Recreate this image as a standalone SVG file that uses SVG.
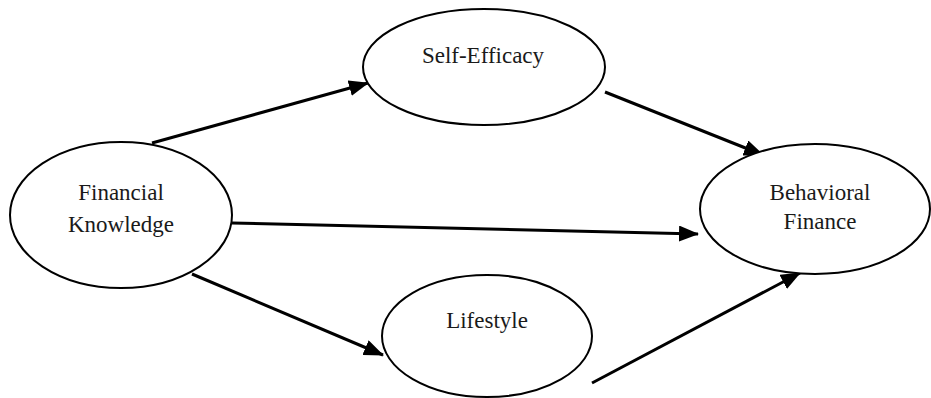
<svg xmlns="http://www.w3.org/2000/svg" width="931" height="398" viewBox="0 0 931 398">
<style>
.node ellipse{fill:#fff;stroke:#000;stroke-width:2}
.node text{font-family:"Liberation Serif","Times New Roman",serif;font-size:23px;fill:#1a1a1a;text-anchor:middle}
.edge{stroke:#000;stroke-width:3;fill:none;marker-end:url(#arr)}
</style>
<defs>
<marker id="arr" markerUnits="userSpaceOnUse" markerWidth="20" markerHeight="16" viewBox="0 0 20 16" refX="19" refY="8" orient="auto">
<path d="M0,0 L20,8 L0,16 Z" fill="#000"/>
</marker>
</defs>
<rect width="931" height="398" fill="#fff"/>
<g id="connectors">
<line class="edge" x1="152" y1="143" x2="368" y2="83"/>
<line class="edge" x1="605" y1="92" x2="763" y2="155"/>
<line class="edge" x1="232" y1="223" x2="698" y2="234"/>
<line class="edge" x1="192" y1="274" x2="383" y2="355"/>
<line class="edge" x1="592" y1="383" x2="800" y2="273"/>
</g>
<g id="financial-knowledge" class="node">
<ellipse cx="121" cy="215" rx="111" ry="73"/>
<text x="121" y="200">Financial</text>
<text x="121" y="232">Knowledge</text>
</g>
<g id="self-efficacy" class="node">
<ellipse cx="484" cy="67" rx="121" ry="58"/>
<text x="483" y="63">Self-Efficacy</text>
</g>
<g id="behavioral-finance" class="node">
<ellipse cx="815" cy="209" rx="115" ry="65"/>
<text x="820" y="200">Behavioral</text>
<text x="820" y="229">Finance</text>
</g>
<g id="lifestyle" class="node">
<ellipse cx="487" cy="336" rx="105" ry="61"/>
<text x="487" y="328">Lifestyle</text>
</g>
</svg>
